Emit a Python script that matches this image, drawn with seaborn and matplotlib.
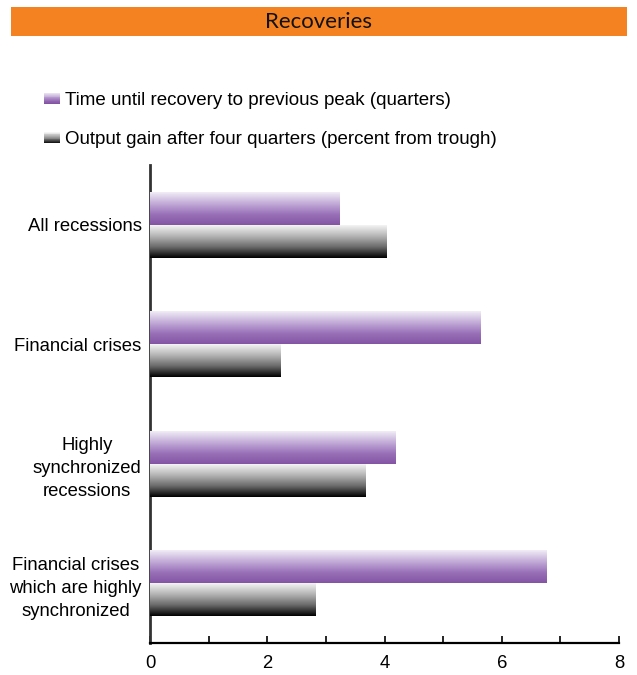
import numpy as np
import pandas as pd
import matplotlib
matplotlib.use("Agg")
import matplotlib.pyplot as plt
import seaborn as sns
from matplotlib.colors import LinearSegmentedColormap
from matplotlib.legend_handler import HandlerBase
from matplotlib.patches import Rectangle

# ---- data ----
categories = [
    "All recessions",
    "Financial crises",
    "Highly\nsynchronized\nrecessions",
    "Financial crises\nwhich are highly\nsynchronized",
]
series_names = [
    "Time until recovery to previous peak (quarters)",
    "Output gain after four quarters (percent from trough)",
]
recovery_quarters = [3.23, 5.64, 4.19, 6.76]
output_gain = [4.04, 2.22, 3.67, 2.82]
x_ticks = [0, 1, 2, 3, 4, 5, 6, 7, 8]
x_tick_labels = ["0", "", "2", "", "4", "", "6", "", "8"]
title = "Recoveries"

df = pd.DataFrame({
    "category": categories * 2,
    "series": [series_names[0]] * 4 + [series_names[1]] * 4,
    "value": recovery_quarters + output_gain,
})

# ---- style ----
sns.set_theme(style="white")
plt.rcParams["font.family"] = ["Liberation Sans", "DejaVu Sans"]

purple_cmap = LinearSegmentedColormap.from_list(
    "purple_grad", ["#f1edf6", "#c4aed8", "#9a72b8", "#8454a4"])
grey_cmap = LinearSegmentedColormap.from_list(
    "grey_grad", ["#f4f4f4", "#b5b5b5", "#6a6a6a", "#000000"])
solid = ["#8a5ca8", "#555555"]

fig = plt.figure(figsize=(6.37, 6.75), dpi=100)
W, H = 637, 675
ax = fig.add_axes([150 / W, 32 / H, 469 / W, 478 / H])

sns.barplot(data=df, y="category", x="value", hue="series",
            hue_order=series_names, order=categories, palette=solid,
            orient="h", width=0.55, gap=0, dodge=True, legend=False,
            linewidth=0, ax=ax)

# vertical gradients clipped to each bar
grad = np.linspace(0, 1, 256).reshape(-1, 1)
bars = list(ax.patches)
for i, patch in enumerate(bars):
    cmap = purple_cmap if i < len(categories) else grey_cmap
    x0, y0 = patch.get_x(), patch.get_y()
    w, h = patch.get_width(), patch.get_height()
    img = ax.imshow(grad, cmap=cmap, aspect="auto", origin="upper",
                    extent=[x0, x0 + w, y0 + h, y0], zorder=3,
                    interpolation="bilinear")
    img.set_clip_path(patch)
ax.set_xlim(0, 8)
ax.set_ylim(3.5, -0.5)

# axes styling
for side in ["top", "right"]:
    ax.spines[side].set_visible(False)
ax.spines["left"].set_color("#333333")
ax.spines["left"].set_linewidth(2)
ax.spines["bottom"].set_color("#000000")
ax.spines["bottom"].set_linewidth(1.6)
ax.set_xticks(x_ticks)
ax.set_xticklabels(x_tick_labels)
ax.tick_params(axis="x", direction="in", length=5, width=1.2, color="black",
               labelsize=13.3, labelcolor="black", pad=9, bottom=True)
ax.tick_params(axis="y", length=0, labelsize=13.3, labelcolor="black", pad=6)
for lbl in ax.get_yticklabels():
    lbl.set_multialignment("center")
    lbl.set_linespacing(1.45)
ax.set_xlabel("")
ax.set_ylabel("")
ax.grid(False)


# legend with gradient swatches
class GradientHandler(HandlerBase):
    def __init__(self, cmap, n=14):
        super().__init__()
        self.cmap = cmap
        self.n = n

    def create_artists(self, legend, orig_handle, xdescent, ydescent,
                       width, height, fontsize, trans):
        arts = []
        hh = height / self.n
        for k in range(self.n):
            yy = -ydescent + height - (k + 1) * hh
            r = Rectangle((-xdescent, yy), width, hh * 1.05,
                          facecolor=self.cmap(k / (self.n - 1)),
                          edgecolor="none", transform=trans)
            arts.append(r)
        return arts


handles = [Rectangle((0, 0), 1, 1) for _ in series_names]
leg = fig.legend(handles, series_names,
                 handler_map={handles[0]: GradientHandler(purple_cmap),
                              handles[1]: GradientHandler(grey_cmap)},
                 loc="upper left", bbox_to_anchor=(27 / W, 1 - 75 / H),
                 frameon=False, fontsize=13.5, handlelength=0.85,
                 handleheight=0.55, handletextpad=0.3, labelspacing=1.2)
for t in leg.get_texts():
    t.set_color("black")

# title banner
fig.patches.append(Rectangle((11 / W, 1 - 36 / H), 616 / W, 29 / H,
                             transform=fig.transFigure, facecolor="#f58220",
                             edgecolor="none", zorder=0))
fig.text(319 / W, 1 - 21.5 / H, title, ha="center", va="center",
         fontsize=16, color="#111111", family=["Lato", "DejaVu Sans"])

fig.savefig("out.png", dpi=100)
